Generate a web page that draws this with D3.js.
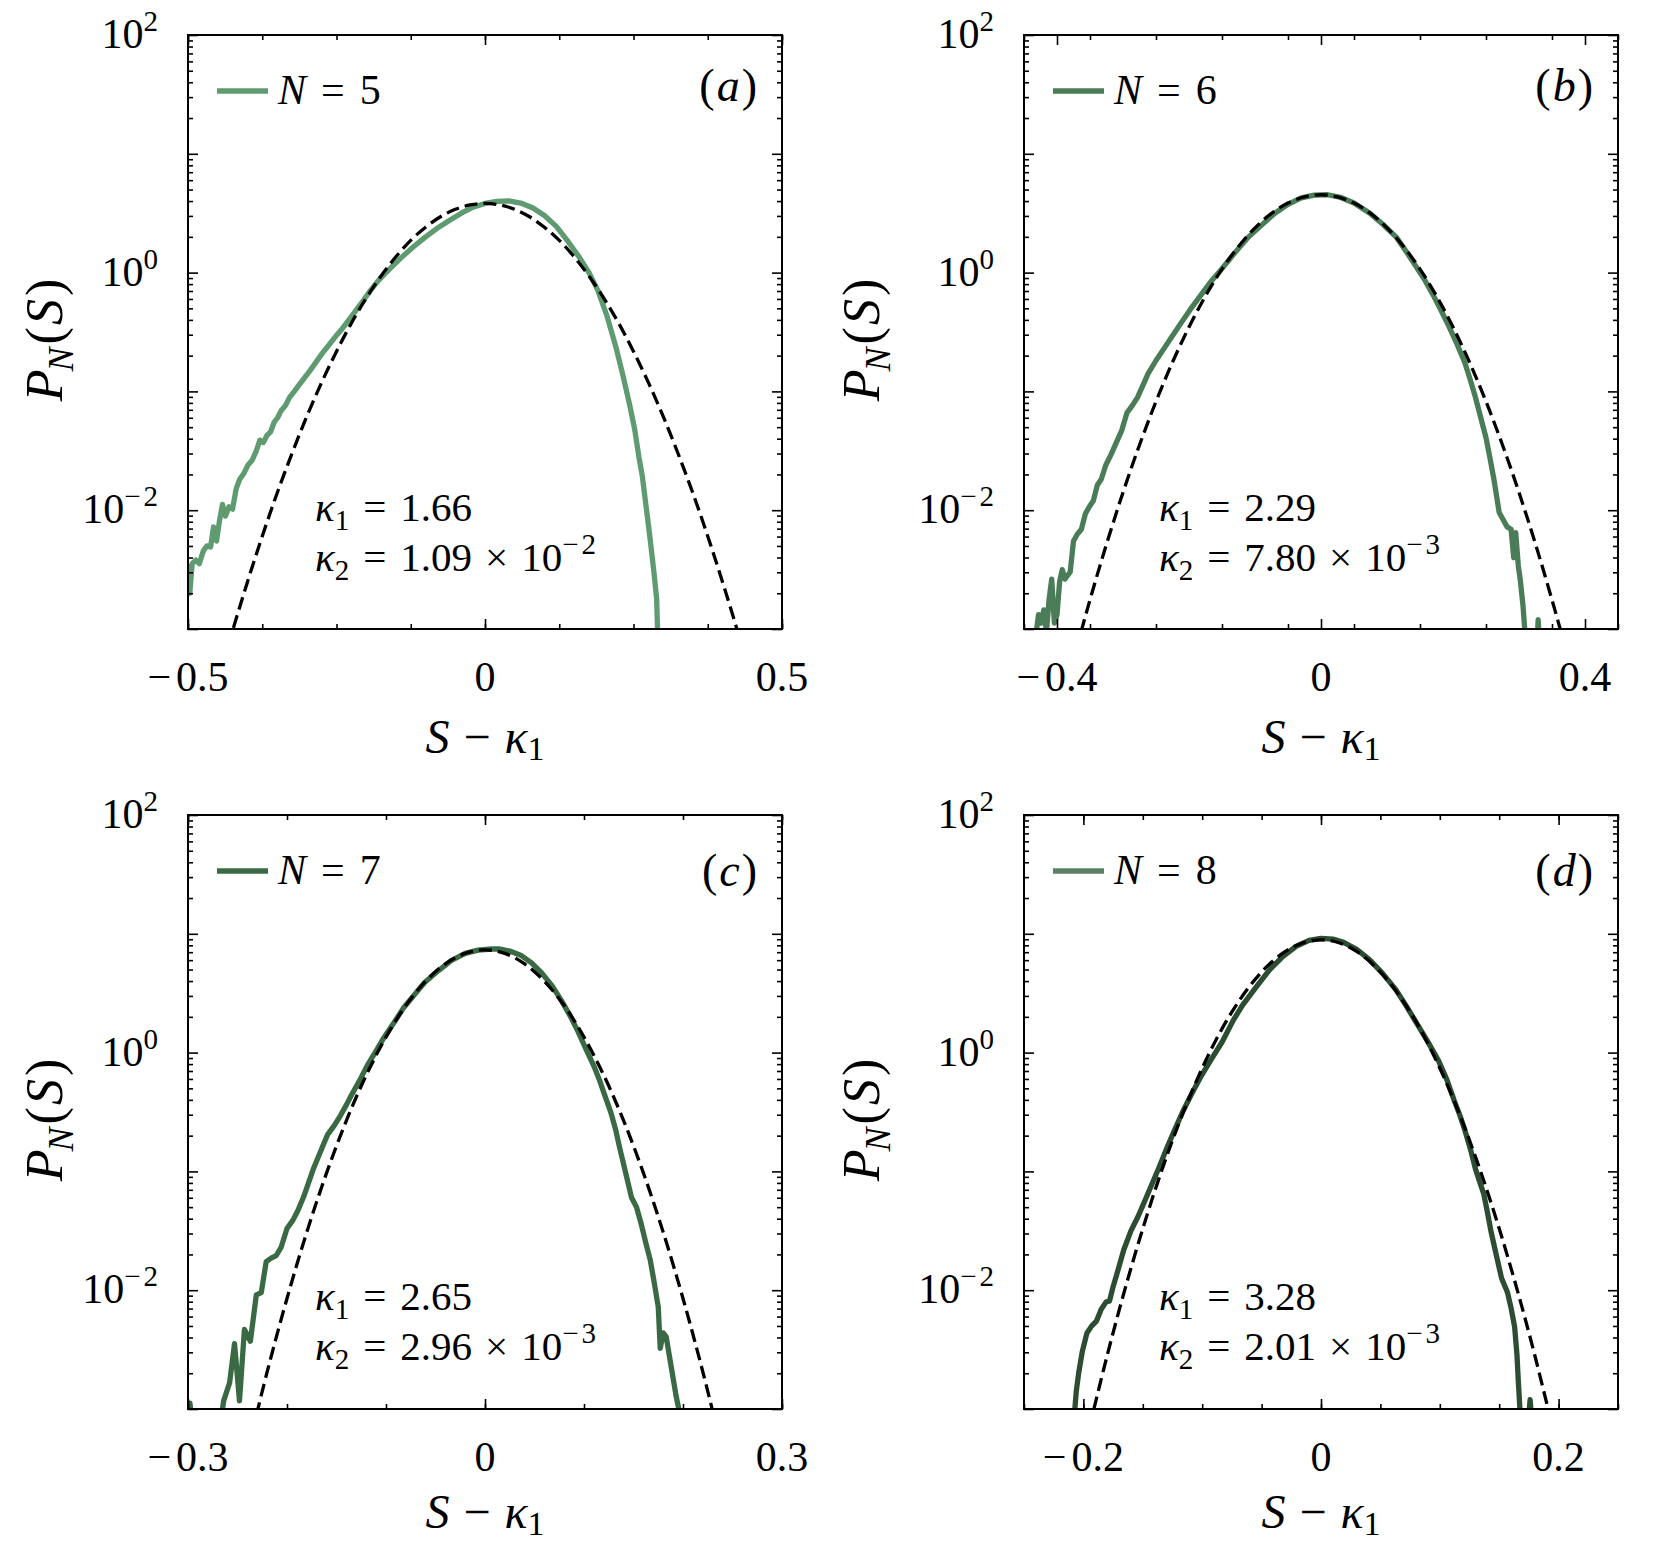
<!DOCTYPE html>
<html><head><meta charset="utf-8">
<script src="https://cdn.jsdelivr.net/npm/d3@7"></script>
<style>
body{margin:0;background:#fff;}
svg text{font-family:"Liberation Serif","DejaVu Serif",serif;fill:#000;}
</style></head><body>
<svg id="chart" width="1659" height="1543"></svg>
<script>
// ---------------- data ----------------
const panelLetters = ['a','b','c','d'];
const systemSizes = [5, 6, 7, 8];
const kappa1Labels = ['1.66', '2.29', '2.65', '3.28'];
const kappa2Mantissas = ['1.09', '7.80', '2.96', '2.01'];
const kappa2Exponents = ['2', '3', '3', '3'];   // shown as 10^(−e)
const xDomains = [[-0.5, 0.5], [-0.45, 0.45], [-0.3, 0.3], [-0.25, 0.25]];
const xMajorTicks = [[-0.5, 0, 0.5], [-0.4, 0, 0.4], [-0.3, 0, 0.3], [-0.2, 0, 0.2]];
const xTickLabels = [['-0.5','0','0.5'], ['-0.4','0','0.4'], ['-0.3','0','0.3'], ['-0.2','0','0.2']];
const xMinorSteps = [0.125, 0.1, 0.1, 0.05];
const yDomain = [1e-3, 1e2];
const yLabelledTicks = [1e2, 1e0, 1e-2];
const yTickExponents = ['2', '0', '-2'];

// simulated distributions P_N(S) vs S - kappa1  [x, P]
const simN5 = [
[-0.500,0.00355],[-0.497,0.00200],[-0.493,0.00355],[-0.487,0.00380],[-0.481,0.00355],[-0.474,0.00457],
[-0.468,0.00501],[-0.462,0.00490],[-0.457,0.00724],[-0.452,0.00550],[-0.447,0.00813],[-0.442,0.0112],
[-0.437,0.00891],[-0.431,0.0107],[-0.425,0.0102],[-0.419,0.0151],[-0.413,0.0182],[-0.406,0.0204],
[-0.399,0.0240],[-0.392,0.0263],[-0.385,0.0316],[-0.379,0.0389],[-0.373,0.0372],[-0.367,0.0427],
[-0.361,0.0457],[-0.355,0.0550],[-0.349,0.0603],[-0.343,0.0692],[-0.336,0.0759],[-0.329,0.0891],
[-0.321,0.100],[-0.312,0.115],[-0.303,0.132],[-0.294,0.151],[-0.284,0.178],[-0.274,0.209],
[-0.263,0.245],[-0.252,0.288],[-0.240,0.339],[-0.225,0.427],[-0.210,0.537],[-0.195,0.684],
[-0.180,0.851],[-0.160,1.08],[-0.140,1.35],[-0.120,1.66],[-0.100,2.00],[-0.080,2.37],
[-0.060,2.75],[-0.040,3.16],[-0.020,3.55],[0.000,3.82],[0.020,3.98],[0.040,4.01],
[0.060,3.85],[0.080,3.51],[0.100,3.02],[0.120,2.45],[0.140,1.82],[0.160,1.32],
[0.175,1.00],[0.190,0.708],[0.205,0.437],[0.220,0.240],[0.232,0.138],[0.243,0.0794],
[0.252,0.0479],[0.259,0.0282],[0.265,0.0191],[0.270,0.0120],[0.275,0.00759],[0.280,0.00468],
[0.285,0.00282],[0.289,0.00178],[0.291,0.000794]
];
const simN6 = [
[-0.432,0.00089],[-0.428,0.00132],[-0.424,0.00112],[-0.420,0.00145],[-0.416,0.00095],[-0.412,0.00178],
[-0.408,0.00263],[-0.404,0.00112],[-0.400,0.00132],[-0.396,0.00251],[-0.392,0.00316],[-0.388,0.00263],
[-0.384,0.00282],[-0.380,0.00302],[-0.375,0.00550],[-0.369,0.00631],[-0.363,0.00692],[-0.357,0.00933],
[-0.351,0.0107],[-0.345,0.0120],[-0.339,0.0162],[-0.333,0.0182],[-0.326,0.0240],[-0.318,0.0295],
[-0.310,0.0372],[-0.302,0.0468],[-0.294,0.0661],[-0.286,0.0759],[-0.278,0.0891],[-0.270,0.112],
[-0.262,0.141],[-0.250,0.182],[-0.238,0.229],[-0.226,0.288],[-0.214,0.363],[-0.198,0.490],
[-0.182,0.646],[-0.166,0.851],[-0.150,1.08],[-0.130,1.48],[-0.110,1.99],[-0.090,2.51],
[-0.070,3.16],[-0.050,3.76],[-0.030,4.25],[-0.010,4.49],[0.010,4.52],[0.030,4.29],
[0.050,3.85],[0.074,3.16],[0.094,2.54],[0.114,1.99],[0.130,1.48],[0.146,1.08],
[0.158,0.851],[0.170,0.646],[0.182,0.479],[0.194,0.351],[0.206,0.251],[0.218,0.174],
[0.226,0.126],[0.234,0.0891],[0.242,0.0603],[0.250,0.0407],[0.256,0.0275],[0.262,0.0182],
[0.266,0.0132],[0.270,0.00955],[0.276,0.00832],[0.282,0.00724],[0.288,0.00692],[0.292,0.00398],
[0.295,0.00646],[0.299,0.00339],[0.302,0.00257],[0.306,0.00158],[0.310,0.000794],[0.318,0.000398],
[0.326,0.000501],[0.329,0.00120],[0.333,0.000501]
];
const simN7 = [
[-0.302,0.00112],[-0.298,0.00112],[-0.294,0.000501],[-0.270,0.000501],[-0.264,0.00117],[-0.258,0.00166],
[-0.253,0.00355],[-0.248,0.00117],[-0.243,0.00468],[-0.237,0.00372],[-0.231,0.00912],[-0.226,0.00955],
[-0.221,0.0174],[-0.216,0.0186],[-0.211,0.0195],[-0.206,0.0229],[-0.200,0.0331],[-0.194,0.0389],
[-0.189,0.0468],[-0.183,0.0617],[-0.178,0.0813],[-0.173,0.107],[-0.168,0.135],[-0.163,0.170],
[-0.159,0.204],[-0.152,0.245],[-0.146,0.295],[-0.140,0.363],[-0.135,0.437],[-0.127,0.575],
[-0.119,0.776],[-0.111,1.00],[-0.103,1.30],[-0.092,1.78],[-0.082,2.40],[-0.071,3.09],
[-0.061,3.89],[-0.047,4.90],[-0.034,5.96],[-0.020,6.84],[-0.007,7.28],[0.007,7.45],
[0.014,7.46],[0.025,7.16],[0.036,6.61],[0.047,5.69],[0.057,4.72],[0.068,3.63],
[0.078,2.67],[0.086,2.04],[0.094,1.50],[0.102,1.07],[0.110,0.771],[0.116,0.575],
[0.121,0.437],[0.127,0.316],[0.132,0.224],[0.136,0.158],[0.140,0.115],[0.144,0.0832],
[0.148,0.0603],[0.153,0.0501],[0.158,0.0355],[0.163,0.0240],[0.167,0.0178],[0.171,0.0115],
[0.175,0.00724],[0.177,0.00324],[0.180,0.00437],[0.183,0.00407],[0.188,0.00229],[0.193,0.00129],
[0.197,0.000891]
];
const simN8 = [
[-0.208,0.000794],[-0.206,0.00141],[-0.204,0.00200],[-0.201,0.00302],[-0.197,0.00437],[-0.193,0.00501],
[-0.189,0.00550],[-0.185,0.00692],[-0.181,0.00794],[-0.178,0.00813],[-0.175,0.0107],[-0.172,0.0135],
[-0.166,0.0219],[-0.160,0.0316],[-0.154,0.0417],[-0.148,0.0575],[-0.142,0.0794],[-0.136,0.110],
[-0.130,0.155],[-0.124,0.214],[-0.117,0.309],[-0.110,0.427],[-0.101,0.631],[-0.092,0.891],
[-0.083,1.24],[-0.074,1.86],[-0.066,2.51],[-0.054,3.63],[-0.043,5.01],[-0.032,6.46],
[-0.021,7.85],[-0.010,8.81],[0.000,9.16],[0.010,9.02],[0.019,8.47],[0.030,7.41],
[0.041,6.03],[0.052,4.62],[0.063,3.39],[0.072,2.45],[0.081,1.74],[0.090,1.23],
[0.099,0.851],[0.106,0.589],[0.112,0.398],[0.117,0.295],[0.121,0.224],[0.126,0.151],
[0.130,0.105],[0.134,0.0794],[0.137,0.0646],[0.140,0.0457],[0.143,0.0316],[0.147,0.0209],
[0.152,0.0126],[0.157,0.00955],[0.160,0.00708],[0.163,0.00490],[0.165,0.00282],[0.166,0.00178],
[0.168,0.000794],[0.173,0.000501],[0.176,0.00120],[0.179,0.000501]
];

// Gaussian reference curves (dashed) [x, P]
const gaussN5 = [
[-0.450,0.000353],[-0.425,0.000964],[-0.400,0.00248],[-0.375,0.00604],[-0.350,0.0139],[-0.325,0.0300],
[-0.300,0.0615],[-0.275,0.119],[-0.250,0.217],[-0.225,0.375],[-0.200,0.610],[-0.175,0.937],
[-0.150,1.36],[-0.125,1.87],[-0.100,2.41],[-0.075,2.95],[-0.050,3.41],[-0.025,3.71],
[0.000,3.82],[0.025,3.71],[0.050,3.41],[0.075,2.95],[0.100,2.41],[0.125,1.87],
[0.150,1.36],[0.175,0.937],[0.200,0.610],[0.225,0.375],[0.250,0.217],[0.275,0.119],
[0.300,0.0615],[0.325,0.0300],[0.350,0.0139],[0.375,0.00604],[0.400,0.00248],[0.425,0.000964],[0.450,0.000353]
];
const gaussN6 = [
[-0.400,0.000159],[-0.375,0.000550],[-0.350,0.00176],[-0.325,0.00518],[-0.300,0.0141],[-0.275,0.0354],
[-0.250,0.0822],[-0.225,0.176],[-0.200,0.348],[-0.175,0.635],[-0.150,1.07],[-0.125,1.66],
[-0.100,2.38],[-0.075,3.15],[-0.050,3.85],[-0.025,4.34],[0.000,4.52],[0.025,4.34],
[0.050,3.85],[0.075,3.15],[0.100,2.38],[0.125,1.66],[0.150,1.07],[0.175,0.635],
[0.200,0.348],[0.225,0.176],[0.250,0.0822],[0.275,0.0354],[0.300,0.0141],[0.325,0.00518],
[0.350,0.00176],[0.375,0.000550],[0.400,0.000159]
];
const gaussN7 = [
[-0.240,0.000436],[-0.220,0.00206],[-0.200,0.00852],[-0.180,0.0308],[-0.160,0.0971],[-0.140,0.268],
[-0.120,0.644],[-0.100,1.35],[-0.080,2.49],[-0.060,3.99],[-0.040,5.59],[-0.020,6.85],
[0.000,7.33],[0.020,6.85],[0.040,5.59],[0.060,3.99],[0.080,2.49],[0.100,1.35],
[0.120,0.644],[0.140,0.268],[0.160,0.0971],[0.180,0.0308],[0.200,0.00852],[0.220,0.00206],[0.240,0.000436]
];
const gaussN8 = [
[-0.195,0.000696],[-0.180,0.00282],[-0.165,0.0102],[-0.150,0.0330],[-0.135,0.0957],[-0.120,0.248],
[-0.105,0.573],[-0.090,1.19],[-0.075,2.20],[-0.060,3.63],[-0.045,5.37],[-0.030,7.11],
[-0.015,8.41],[0.000,8.89],[0.015,8.41],[0.030,7.11],[0.045,5.37],[0.060,3.63],
[0.075,2.20],[0.090,1.19],[0.105,0.573],[0.120,0.248],[0.135,0.0957],[0.150,0.0330],
[0.165,0.0102],[0.180,0.00282],[0.195,0.000696]
];
const simSeries = [simN5, simN6, simN7, simN8];
const gaussSeries = [gaussN5, gaussN6, gaussN7, gaussN8];

// ---------------- styles / layout ----------------
const lineColors = ['#5f9b71', '#4a7d57', '#3a6a44', '#2c4d31'];
const legendColors = ['#5f9b71', '#4a7d57', '#3b6b45', '#5a8063'];
const boxes = [{x:188, y:35}, {x:1024, y:35}, {x:188, y:815}, {x:1024, y:815}];
const W = 594, H = 594;
const MINUS = '\u2212';

const svg = d3.select('#chart');

// rich text helper: parts {t, it, sub, sup, dx}
function rich(textSel, parts, baseSize) {
  let shift = 0;
  parts.forEach(p => {
    const ts = textSel.append('tspan').text(p.t);
    if (p.it) ts.attr('font-style', 'italic');
    let target = 0, size = baseSize;
    if (p.sub) { target = p.sub; size = Math.round(baseSize * 0.7); }
    if (p.sup) { target = -p.sup; size = Math.round(baseSize * 0.7); }
    ts.attr('font-size', size);
    if (target !== shift) { ts.attr('dy', target - shift); shift = target; }
    if (p.dx) ts.attr('dx', p.dx);
  });
  return textSel;
}
function numParts(s, dxMinus) {
  if (s.startsWith('-')) return [{t: MINUS}, {t: s.slice(1), dx: dxMinus}];
  return [{t: s}];
}

panelLetters.forEach((letter, i) => {
  const b = boxes[i];
  const row = i < 2 ? 0 : 1;
  const g = svg.append('g').attr('transform', `translate(${b.x},${b.y})`);
  const x = d3.scaleLinear().domain(xDomains[i]).range([0, W]);
  const y = d3.scaleLog().domain(yDomain).range([H, 0]);

  const clipId = 'clip-' + letter;
  g.append('clipPath').attr('id', clipId).append('rect').attr('width', W).attr('height', H);

  const plot = g.append('g').attr('clip-path', `url(#${clipId})`);
  plot.append('path').datum(simSeries[i])
    .attr('fill', 'none').attr('stroke', lineColors[i]).attr('stroke-width', 5.3)
    .attr('stroke-linejoin', 'round')
    .attr('d', d3.line().x(d => x(d[0])).y(d => y(d[1])));
  plot.append('path').datum(gaussSeries[i])
    .attr('fill', 'none').attr('stroke', '#000').attr('stroke-width', 3.3)
    .attr('stroke-dasharray', '13,6')
    .attr('d', d3.line().curve(d3.curveCatmullRom).x(d => x(d[0])).y(d => y(d[1])));

  // ticks (inward, all four sides)
  const xMinor = d3.range(xDomains[i][0], xDomains[i][1] + 1e-9, xMinorSteps[i]);
  const yMajor = [1e-3, 1e-2, 1e-1, 1e0, 1e1, 1e2];
  const yMinor = [];
  for (let e = -3; e <= 1; e++) for (let k = 2; k <= 9; k++) yMinor.push(k * Math.pow(10, e));

  function styleAxis(sel) {
    sel.select('.domain').remove();
    sel.selectAll('.tick line').attr('stroke', '#000').attr('stroke-width', 1.6);
    sel.selectAll('.tick text').remove();
  }
  const axes = [
    [d3.axisBottom, x, xMinor, 5, `translate(0,${H})`],
    [d3.axisBottom, x, xMajorTicks[i], 10, `translate(0,${H})`],
    [d3.axisTop, x, xMinor, 5, null],
    [d3.axisTop, x, xMajorTicks[i], 10, null],
    [d3.axisLeft, y, yMinor, 5, null],
    [d3.axisLeft, y, yMajor, 10, null],
    [d3.axisRight, y, yMinor, 5, `translate(${W},0)`],
    [d3.axisRight, y, yMajor, 10, `translate(${W},0)`]
  ];
  axes.forEach(([fn, sc, vals, len, tr]) => {
    const ag = g.append('g');
    if (tr) ag.attr('transform', tr);
    ag.call(fn(sc).tickValues(vals).tickSize(-len).tickFormat('')).call(styleAxis);
  });

  // frame
  g.append('rect').attr('width', W).attr('height', H)
    .attr('fill', 'none').attr('stroke', '#000').attr('stroke-width', 2);

  // x tick labels
  xMajorTicks[i].forEach((v, j) => {
    const t = g.append('text').attr('x', x(v)).attr('y', H + 62)
      .attr('text-anchor', 'middle').attr('font-size', 42);
    rich(t, numParts(xTickLabels[i][j], 5), 42);
  });
  // y tick labels
  yLabelledTicks.forEach((v, j) => {
    const t = g.append('text').attr('x', -30).attr('y', y(v) + 13)
      .attr('text-anchor', 'end').attr('font-size', 42);
    const ex = yTickExponents[j];
    const parts = [{t:'10'}];
    if (ex.startsWith('-')) { parts.push({t: MINUS, sup: 17}); parts.push({t: ex.slice(1), sup: 17, dx: 3}); }
    else parts.push({t: ex, sup: 17});
    rich(t, parts, 42);
  });

  // axis labels
  const xl = g.append('text').attr('x', W / 2).attr('y', H + (row === 0 ? 124 : 119))
    .attr('text-anchor', 'middle').attr('font-size', 48);
  rich(xl, [{t:'S', it:true}, {t:MINUS, dx:14}, {t:'\u03ba', it:true, dx:14}, {t:'1', sub:7}], 48);

  const ylx = (i % 2 === 0) ? 62 - b.x : 879 - b.x;
  const yl = g.append('text').attr('transform', `translate(${ylx},${H / 2 + 8}) rotate(-90)`)
    .attr('text-anchor', 'middle').attr('font-size', 52);
  rich(yl, [{t:'P', it:true}, {t:'N', it:true, sub:11, dx:-2}, {t:'(', dx:3}, {t:'S', it:true, dx:2}, {t:')', dx:3}], 52);

  // legend
  g.append('line').attr('x1', 29).attr('x2', 80).attr('y1', 56).attr('y2', 56)
    .attr('stroke', legendColors[i]).attr('stroke-width', 5.5);
  const lt = g.append('text').attr('x', 90).attr('y', 69).attr('font-size', 42);
  rich(lt, [{t:'N', it:true}, {t:'=', dx:15}, {t:String(systemSizes[i]), dx:15}], 42);

  // panel label
  const pl = g.append('text').attr('x', W - 25).attr('y', row === 0 ? 66 : 71)
    .attr('text-anchor', 'end').attr('font-size', 46);
  rich(pl, [{t:'('}, {t:letter, it:true, dx:2}, {t:')', dx:2}], 46);

  // cumulant annotations
  const ax = (i % 2 === 0) ? 127 : 135;
  const ay1 = row === 0 ? 486 : 495;
  const a1 = g.append('text').attr('x', ax).attr('y', ay1).attr('font-size', 41);
  rich(a1, [{t:'\u03ba', it:true}, {t:'1', sub:9}, {t:'=', dx:14}, {t:kappa1Labels[i], dx:14}], 41);
  const a2 = g.append('text').attr('x', ax).attr('y', ay1 + 50).attr('font-size', 41);
  rich(a2, [{t:'\u03ba', it:true}, {t:'2', sub:9}, {t:'=', dx:14}, {t:kappa2Mantissas[i], dx:14},
            {t:'\u00d7', dx:13}, {t:'10', dx:13}, {t:MINUS, sup:17}, {t:kappa2Exponents[i], sup:17, dx:3}], 41);
});
</script></body></html>
